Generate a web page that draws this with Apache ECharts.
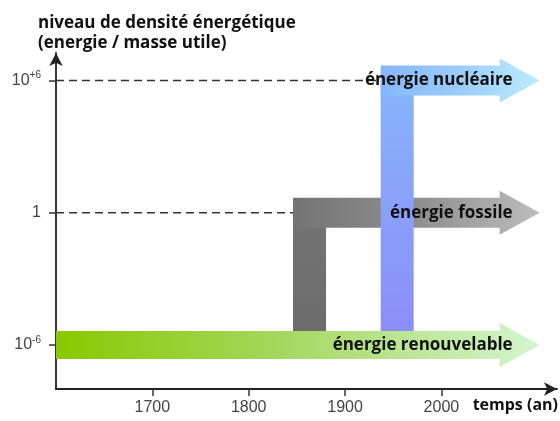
<!DOCTYPE html>
<html>
<head>
<meta charset="utf-8">
<script src="https://cdn.jsdelivr.net/npm/echarts@6/dist/echarts.min.js"></script>
<style>
  html, body { margin: 0; padding: 0; background: #fff; }
  #chart { width: 560px; height: 421px; }
</style>
</head>
<body>
<div id="chart"></div>
<script>
// drawing order: fossil, nuclear, then renewable on top
const sources = ['énergie fossile', 'énergie nucléaire', 'énergie renouvelable'];
const levels = [0, 6, -6];              // log10 of energy density
const startYears = [1846, 1937, 1600];
const endYears = [2102, 2102, 2102];
const yearTicks = [1700, 1800, 1900, 2000];
const levelTicks = [-6, 0, 6];

const font = '"Open Sans", "DejaVu Sans", sans-serif';

const fills = {
    'énergie fossile': {
        bar: ['#747474', '#6c6c6c'],
        arm: [[0, '#747474'], [0.5, '#8e8e8e'], [1, '#bdbdbd']]
    },
    'énergie nucléaire': {
        bar: ['#86b4fb', '#8c8ef9'],
        arm: [[0, '#86b6fb'], [0.5, '#9ccdfd'], [1, '#bcecfd']]
    },
    'énergie renouvelable': {
        bar: null,
        arm: [[0, '#8ac800'], [0.45, '#a4d65c'], [1, '#d4f5d0']]
    }
};

const chart = echarts.init(document.getElementById('chart'));

function renderArrow(params, api) {
    const name = sources[params.dataIndex];
    const style = fills[name];
    const p0 = api.coord([api.value(0), api.value(1)]);
    const tip = api.coord([api.value(2), api.value(1)]);
    const axisX = api.coord([1600, api.value(1)])[0];
    const cy = p0[1];
    const half = style.bar ? 15 : 14;
    const headHalf = 22;
    const headLen = 40;
    const barW = 33;
    const children = [];

    if (style.bar) {
        // dashed guide from the axis to the start of the arrow
        children.push({
            type: 'line',
            shape: { x1: axisX, y1: cy, x2: p0[0], y2: cy },
            style: { stroke: '#333', lineWidth: 1.6, lineDash: [8, 5] }
        });
        const bottom = api.coord([1600, levels[2]])[1] - 14;
        children.push({
            type: 'rect',
            shape: { x: p0[0], y: cy, width: barW, height: bottom - cy },
            style: {
                fill: new echarts.graphic.LinearGradient(0, 0, 0, 1, [
                    { offset: 0, color: style.bar[0] },
                    { offset: 1, color: style.bar[1] }
                ])
            }
        });
    }

    const hx = tip[0] - headLen;
    children.push({
        type: 'polygon',
        shape: {
            points: [
                [p0[0], cy - half], [hx, cy - half], [hx, cy - headHalf],
                [tip[0], cy], [hx, cy + headHalf], [hx, cy + half],
                [p0[0], cy + half]
            ]
        },
        style: {
            fill: new echarts.graphic.LinearGradient(0, 0, 1, 0,
                style.arm.map(s => ({ offset: s[0], color: s[1] })))
        }
    });

    return { type: 'group', children: children };
}

function renderLabel(params, api) {
    const tip = api.coord([api.value(2), api.value(1)]);
    return {
        type: 'text',
        style: {
            x: tip[0] - 27,
            y: tip[1],
            text: sources[params.dataIndex],
            align: 'right',
            verticalAlign: 'middle',
            fill: '#111',
            font: 'bold 17px ' + font
        }
    };
}

const seriesData = sources.map((s, i) => [startYears[i], levels[i], endYears[i]]);

chart.setOption({
    animation: false,
    title: {
        text: 'niveau de densité énergétique\n(energie / masse utile)',
        left: 33,
        top: 8,
        textStyle: {
            fontFamily: font,
            fontSize: 17,
            fontWeight: 'bold',
            lineHeight: 20,
            color: '#111'
        }
    },
    grid: { left: 56, right: 3, top: 53, bottom: 32 },
    xAxis: {
        type: 'value',
        min: 1600,
        max: 2120,
        splitLine: { show: false },
        axisLine: {
            onZero: false,
            lineStyle: { color: '#222', width: 1.8 },
            symbol: ['none', 'arrow'],
            symbolSize: [10, 13]
        },
        axisTick: {
            customValues: yearTicks,
            length: 7,
            lineStyle: { color: '#333', width: 1.5 }
        },
        axisLabel: {
            customValues: yearTicks,
            margin: 11,
            fontFamily: '"Liberation Sans", Arial, sans-serif',
            fontSize: 16,
            color: '#444',
            formatter: v => String(v)
        }
    },
    yAxis: {
        type: 'value',
        min: -8,
        max: 7.25,
        splitLine: { show: false },
        axisLine: {
            onZero: false,
            lineStyle: { color: '#222', width: 1.8 },
            symbol: ['none', 'arrow'],
            symbolSize: [10, 13]
        },
        axisTick: {
            customValues: levelTicks,
            length: 7,
            lineStyle: { color: '#333', width: 1.5 }
        },
        axisLabel: {
            customValues: levelTicks,
            margin: 15,
            fontFamily: '"Liberation Sans", Arial, sans-serif',
            fontSize: 16,
            color: '#444',
            formatter: v => v === 0 ? '1' : '10{s|' + (v > 0 ? '+' : '-') + Math.abs(v) + '}',
            rich: {
                s: { fontSize: 10, verticalAlign: 'top', padding: [0, 0, 10, 0], color: '#444' }
            }
        }
    },
    graphic: [{
        type: 'text',
        right: 2,
        top: 397,
        style: {
            text: 'temps (an)',
            fill: '#111',
            font: 'bold 16px ' + font
        }
    }],
    series: [{
        type: 'custom',
        clip: false,
        renderItem: renderArrow,
        encode: { x: [0, 2], y: 1 },
        data: seriesData
    }, {
        type: 'custom',
        clip: false,
        z: 5,
        renderItem: renderLabel,
        encode: { x: [0, 2], y: 1 },
        data: seriesData
    }]
});
</script>
</body>
</html>
